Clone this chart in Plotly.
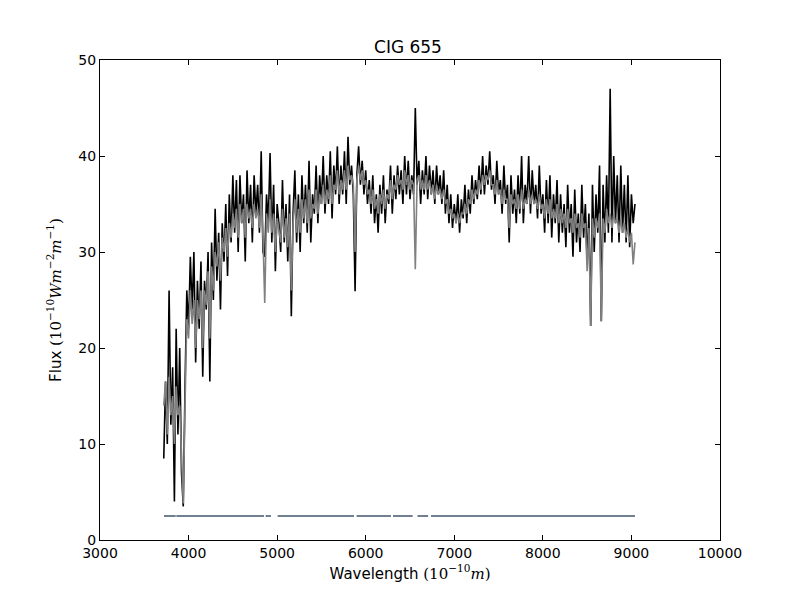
import numpy as np
import plotly.graph_objects as go

# wavelength grid of the spectrum (Angstrom), 20 A steps
wave = np.arange(3720, 9041, 20)

# observed flux (black)
flux_obs = [
    8.5, 16.5, 10, 26, 12, 18, 4.0, 22, 11, 20,
    7, 3.5, 16, 26, 22, 29.5, 24, 30, 18.5, 27,
    22, 29, 17, 27, 24, 30, 16.5, 31, 25, 34.5,
    27, 32, 24, 33, 29, 35, 27.5, 36, 31, 38,
    32, 37.5, 30, 38, 33, 36, 29, 38.5, 33, 37,
    31, 38, 34, 37, 32, 40.5, 30, 29.5, 36, 33,
    40.3, 31, 37, 28, 35, 33, 30, 37.5, 31, 35,
    29, 36, 23.3, 34, 38.5, 31, 36, 30, 38, 33,
    37, 32, 39.5, 31, 36, 34, 39, 33, 38, 35,
    40, 34, 38, 35, 40.5, 33.5, 39, 36, 41, 35,
    39, 36, 40.5, 35, 42, 37, 39, 36, 25.9, 38,
    41, 37, 39.5, 36, 38.5, 35, 37.5, 34, 38, 33,
    36, 32, 37, 34, 38, 33, 36.5, 35, 39, 34,
    38, 35.5, 39, 36, 38.5, 35, 40, 36, 39.5, 35.5,
    38, 36, 45, 37, 39.5, 35, 38.5, 36, 40, 35.5,
    39, 36, 38.5, 35, 39, 36, 38, 35, 38.5, 34,
    37, 33, 36, 32.5, 35, 33, 36, 32, 35.5, 33.5,
    37, 33, 36.5, 34, 38, 35, 37.5, 35.5, 39, 36,
    40, 36, 39, 37, 40.5, 36.5, 38, 35, 39.5, 36,
    37.5, 34, 39, 35, 37, 31, 38, 34, 36.5, 33,
    38, 34, 40, 33, 37, 35, 40, 34, 38.5, 35,
    37, 33.5, 39, 34, 36, 32, 37.5, 33, 38, 31.5,
    36, 33, 37.5, 31, 36, 32, 35, 30.5, 37, 32,
    35, 29.5, 36.5, 31, 34, 30, 37, 31.5, 35, 29,
    34, 22.3, 37, 30, 36, 32, 39, 22.8, 37, 31,
    38, 32, 47, 31, 40, 33, 38, 31, 39, 32,
    37, 31, 38, 30.5, 36, 33, 35,
]

# model / fitted flux (grey)
flux_fit = [
    14, 16.5, 11, 17, 13, 15, 10, 16, 13, 14,
    9, 3.8, 14, 23, 21, 26, 22.5, 25, 20, 25,
    23, 26, 20, 26, 24.5, 28, 21, 28.5, 26, 30,
    28.5, 31, 27, 31.5, 30, 32.5, 29.5, 33, 31.5, 34,
    32.5, 34.5, 31.5, 35, 33, 34.5, 31.5, 35, 33.5, 34.5,
    32.5, 35, 33.5, 34.5, 32.5, 36, 31.5, 24.7, 34, 32,
    35.5, 32, 34, 30, 33.5, 32, 31, 34.5, 31.5, 33.5,
    30.5, 34, 26, 33, 35.5, 32, 34.5, 32, 35.5, 33.5,
    35.5, 33, 36.5, 33.5, 35, 34.5, 36.5, 34, 36, 35,
    37, 35, 36.5, 35.5, 38, 35, 37, 36.5, 38.5, 36,
    37.5, 36.5, 38.5, 36.5, 39, 37.5, 38, 37, 30, 37.5,
    39, 37.5, 38.5, 37, 37.5, 36, 36.5, 35, 36.5, 34.5,
    35.5, 34, 36, 35, 36.5, 34.5, 36, 35.5, 37.5, 35.5,
    37, 36.5, 38, 37, 37.5, 36.5, 38.5, 37, 38, 36.5,
    37.5, 37, 28.2, 37.5, 38, 36.5, 37.5, 36.5, 38, 36.5,
    37.5, 36, 37, 35.5, 37, 36, 36.5, 35.5, 36.5, 35,
    35.5, 34, 34.5, 33.5, 34, 33, 34, 33, 34, 34,
    35, 34, 35.5, 35, 36.5, 35.5, 36.5, 36, 37.5, 36.5,
    38, 37, 38, 37.5, 38.5, 37, 37, 36, 37.5, 36,
    36.5, 35, 36.5, 35.5, 35.5, 32.5, 36, 35, 35.5, 34.5,
    36, 34.5, 36.5, 34.5, 35.5, 35, 36.5, 35, 36, 35,
    35.5, 34.5, 36, 34.5, 35, 33.5, 35.5, 34, 35.5, 33.5,
    34.5, 33.5, 35, 33, 34.5, 33, 34, 32.5, 34.5, 33,
    33.5, 32, 34, 32.5, 33, 31.5, 34, 32.5, 33, 28,
    32.5, 22.3, 33.5, 31.5, 33.5, 32.5, 34, 22.8, 33.5, 32,
    34.5, 33, 34, 32.5, 34, 33, 33.5, 32, 33.5, 32,
    33, 31.5, 32.5, 31, 32, 28.7, 31,
]

# unmasked wavelength windows drawn at the bottom
mask_start = [3722, 3862, 4870, 5005, 5897, 6308, 6585, 6737]
mask_end = [3855, 4852, 4930, 5868, 6285, 6530, 6705, 9040]
mask_level = 2.5

mx, my = [], []
for s, e in zip(mask_start, mask_end):
    mx += [s, e, None]
    my += [mask_level, mask_level, None]

fig = go.Figure()
fig.add_trace(go.Scatter(x=wave, y=flux_obs, mode="lines",
                         line=dict(color="black", width=1.6)))
fig.add_trace(go.Scatter(x=wave, y=flux_fit, mode="lines",
                         line=dict(color="#808080", width=1.6)))
fig.add_trace(go.Scatter(x=mx, y=my, mode="lines",
                         line=dict(color="#708090", width=2)))

serif = '<span style="font-family:DejaVu Serif">'
fig.update_layout(
    width=800, height=600,
    autosize=False,
    showlegend=False,
    plot_bgcolor="white",
    paper_bgcolor="white",
    font=dict(family="DejaVu Sans", size=14, color="black"),
    title=dict(text="CIG 655", x=0.5, xanchor="center", y=0.935, yanchor="middle",
               font=dict(size=17)),
    margin=dict(l=92, r=88, t=52, b=68),
    xaxis=dict(
        title=dict(text="Wavelength " + serif + "(10<sup>−10</sup><i>m</i>)</span>",
                   standoff=8, font=dict(size=15)),
        range=[3000, 10000], dtick=1000, tickformat="d",
        showline=True, linewidth=1, linecolor="black", mirror="ticks",
        ticks="inside", ticklen=5, tickcolor="black",
        showgrid=False, zeroline=False,
    ),
    yaxis=dict(
        title=dict(text="Flux " + serif + "(10<sup>−10</sup><i>Wm</i><sup>−2</sup><i>m</i><sup>−1</sup>)</span>",
                   standoff=13, font=dict(size=15)),
        range=[0, 50], dtick=10,
        showline=True, linewidth=1, linecolor="black", mirror="ticks",
        ticks="inside", ticklen=5, tickcolor="black",
        showgrid=False, zeroline=False,
    ),
)

fig.write_html("out.html")
